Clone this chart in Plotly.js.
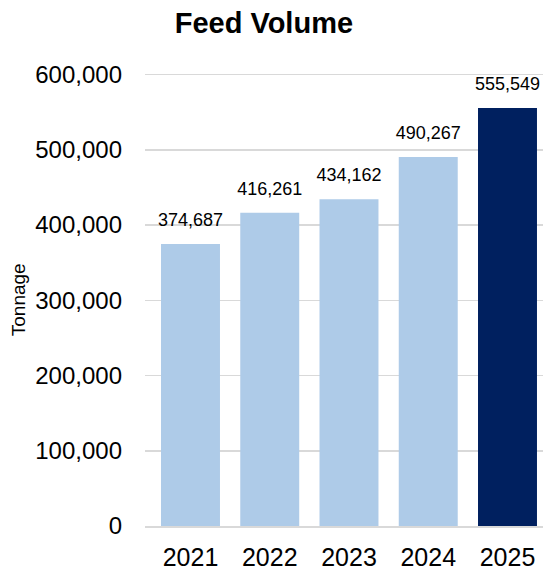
<!DOCTYPE html>
<html><head><meta charset="utf-8">
<script src="https://cdn.plot.ly/plotly-3.0.1.min.js"></script>
<style>html,body{margin:0;padding:0;background:#fff}#chart{width:543px;height:571px}</style>
</head><body><div id="chart"></div>
<script>
var years = ['2021','2022','2023','2024','2025'];
var tonnage = [374687, 416261, 434162, 490267, 555549];
var barColors = ['#AECBE8','#AECBE8','#AECBE8','#AECBE8','#00205F'];
var yTicks = [0,100000,200000,300000,400000,500000,600000];

var fmt = function(v){ return v.toLocaleString('en-US'); };

var annotations = [{xref:'paper', yref:'paper', x:-0.319, y:0.492, text:'Tonnage', textangle:-90, showarrow:false,
  xanchor:'center', yanchor:'middle', font:{family:'Liberation Sans, Arial', size:19, color:'#000'}}];

var data = [
  {type:'bar', x:years, y:tonnage, marker:{color:barColors}, width:0.744, hoverinfo:'none'},
  {type:'scatter', mode:'markers+text', x:years, y:tonnage, text:tonnage.map(fmt), textposition:'top center',
   marker:{size:20, color:'rgba(0,0,0,0)'},
   textfont:{family:'Liberation Sans, Arial', size:18, color:'#000'}, hoverinfo:'none', cliponaxis:false}
];

var layout = {
  width:543, height:571,
  margin:{l:145, r:0, t:67, b:45},
  paper_bgcolor:'#fff', plot_bgcolor:'#fff',
  title:{text:'<b>Feed Volume</b>', x:0.486, xanchor:'center', y:0.96, yanchor:'middle',
    font:{family:'Liberation Sans, Arial', size:29, color:'#000'}},
  xaxis:{type:'category', range:[-0.574, 4.448], showgrid:false, showline:true, linecolor:'#D9D9D9', linewidth:1.5,
    ticks:'', tickfont:{family:'Liberation Sans, Arial', size:25, color:'#000'}, ticklabelstandoff:8},
  yaxis:{range:[0,610000], tickvals:yTicks, ticktext:yTicks.map(fmt), showgrid:true, gridcolor:'#D9D9D9', gridwidth:1.5,
    zeroline:false, showline:false, ticks:'', tickfont:{family:'Liberation Sans, Arial', size:24, color:'#000'}, ticklabelstandoff:22},
  annotations:annotations,
  showlegend:false,
  font:{family:'Liberation Sans, Arial'}
};
Plotly.newPlot('chart', data, layout, {staticPlot:true, displayModeBar:false});
</script></body></html>
